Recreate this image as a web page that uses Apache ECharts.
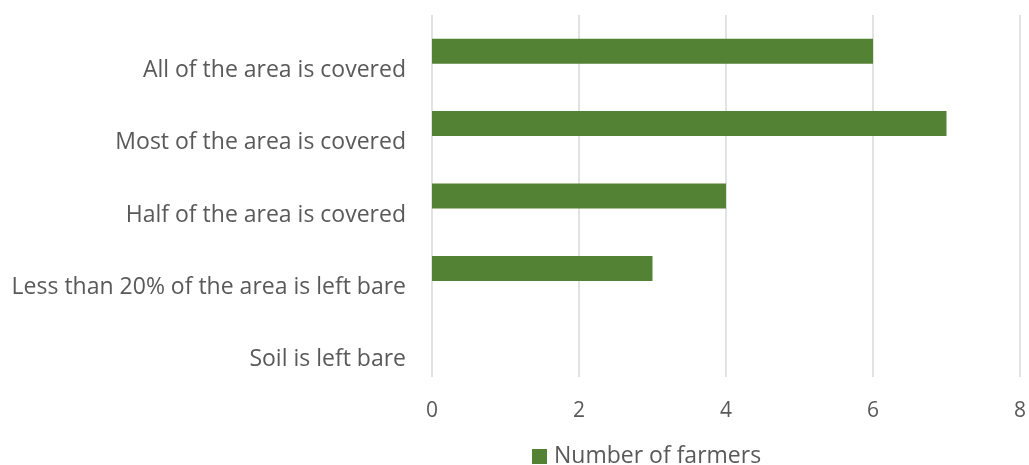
<!DOCTYPE html>
<html>
<head>
<meta charset="utf-8">
<script src="https://cdn.jsdelivr.net/npm/echarts@6/dist/echarts.min.js"></script>
<style>
html,body{margin:0;padding:0;background:#fff;}
#main{width:1029px;height:465px;}
</style>
</head>
<body>
<div id="main"></div>
<script>
var categories = ['All of the area is covered', 'Most of the area is covered', 'Half of the area is covered', 'Less than 20% of the area is left bare', 'Soil is left bare'];
var farmers = [6, 7, 4, 3, 0];
var seriesName = 'Number of farmers';

var textColor = '#595959';
var fontName = 'Open Sans';

var option = {
	animation: false,
	grid: {
		left: 432,
		right: 8,
		top: 15,
		bottom: 88
	},
	legend: {
		data: [seriesName],
		top: 440,
		left: 527,
		icon: 'rect',
		itemWidth: 15,
		itemHeight: 15,
		textStyle: {color: textColor, fontSize: 23, fontFamily: fontName, padding: [0, 0, 0, 2]}
	},
	xAxis: {
		type: 'value',
		min: 0,
		max: 8,
		interval: 2,
		axisLine: {show: false},
		axisTick: {show: false},
		splitLine: {lineStyle: {color: '#d9d9d9', width: 1.5}},
		axisLabel: {color: textColor, fontSize: 21, fontFamily: fontName, margin: 24}
	},
	yAxis: {
		type: 'category',
		inverse: true,
		data: categories,
		axisLine: {show: false},
		axisTick: {show: false},
		// labels sit a bit lower than the bars in the original
		axisLabel: {
			color: textColor, fontSize: 23, fontFamily: fontName, margin: 26,
			verticalAlign: 'top', lineHeight: 38
		}
	},
	series: [
		{
			name: seriesName,
			type: 'bar',
			data: farmers,
			barWidth: 25,
			itemStyle: {color: '#548235'}
		}
	]
};

var myChart = echarts.init(document.getElementById('main'));
myChart.setOption(option);
</script>
</body>
</html>
